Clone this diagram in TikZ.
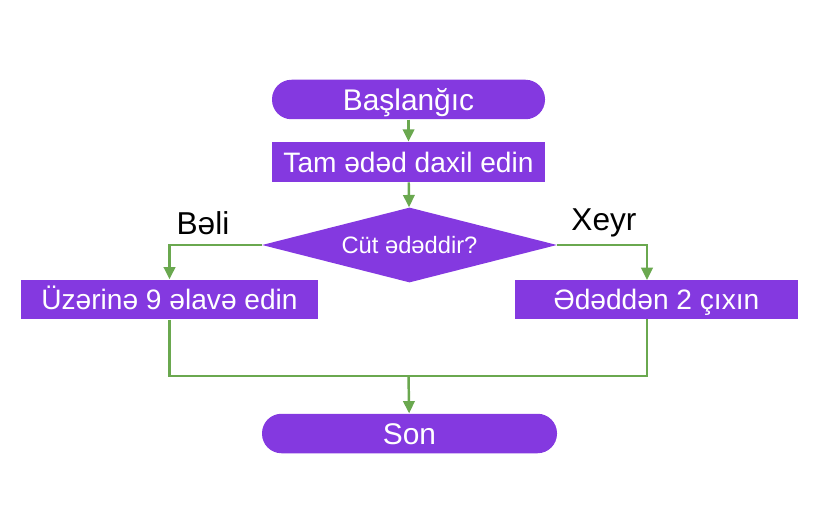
\documentclass[tikz,border=0pt]{standalone}
\usepackage{fontspec}
\setmainfont{Liberation Sans}
\usetikzlibrary{shapes.geometric,arrows.meta}

\definecolor{boxpurple}{RGB}{132,57,224}
\definecolor{linegreen}{RGB}{106,168,79}

\begin{document}
\begin{tikzpicture}[
		box/.style={rectangle,fill=boxpurple,text=white,inner sep=0pt,minimum height=0.79cm,text height=11.5pt,text depth=0pt,font=\fontsize{16}{19}\selectfont},
		pill/.style={box,rounded corners=0.39cm,text height=12.2pt,font=\fontsize{17}{20}\selectfont},
		cond/.style={diamond,fill=boxpurple,text=white,inner sep=0pt,aspect=4,minimum width=5.9cm,minimum height=1.5cm,text height=9.7pt,text depth=0pt,font=\fontsize{13.5}{16}\selectfont},
		answer/.style={text=black,font=\fontsize{18}{21}\selectfont},
		flow/.style={draw=linegreen,line width=1.4pt},
		>={Triangle[length=7pt,width=6.5pt]}]
	\useasboundingbox (0,0) rectangle (16.28,-10.28);

	\node[pill,minimum width=5.46cm] (start) at (8.17,-1.99) {Başlanğıc};
	\node[box,minimum width=5.46cm,minimum height=0.8cm] (input) at (8.17,-3.24) {Tam ədəd daxil edin};
	\node[cond] (even) at (8.19,-4.90) {Cüt ədəddir?};
	\node[box,minimum width=5.94cm] (addnine) at (3.39,-5.99) {Üzərinə 9 əlavə edin};
	\node[box,minimum width=5.66cm] (subtwo) at (13.13,-5.99) {Ədəddən 2 çıxın};
	\node[pill,minimum width=5.9cm] (stop) at (8.19,-8.67) {Son};

	\node[answer] (yes) at (4.06,-4.47) {Bəli};
	\node[answer] (no) at (12.08,-4.45) {Xeyr};

	\coordinate (subin) at (12.94,-5.60);
	\coordinate (subout) at (12.94,-6.38);
	\coordinate (merge) at (8.17,-7.52);

	\draw[flow,->] (start) -- (input);
	\draw[flow,->] (input) -- (even);
	\draw[flow,->] (even.west) -| (addnine.north);
	\draw[flow,->] (even.east) -| (subin);
	\draw[flow] (addnine.south) |- (merge) -| (subout);
	\draw[flow,->] (merge) -- (stop);
\end{tikzpicture}
\end{document}
